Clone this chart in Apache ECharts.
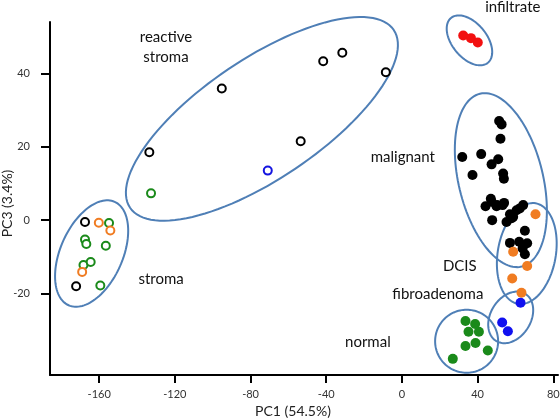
<!DOCTYPE html>
<html><head><meta charset="utf-8">
<script src="https://cdn.jsdelivr.net/npm/echarts@6/dist/echarts.min.js"></script>
<style>html,body{margin:0;padding:0;background:#fff}#c{width:560px;height:420px}</style>
</head><body><div id="c"></div>
<script>
// PCA scores [PC1, PC3]
const openBlack = [[-133.5,18.5],[-95.2,35.9],[-41.6,43.3],[-31.5,45.6],[-8.5,40.3],[-53.5,21.5],[-167.5,-0.5],[-172.2,-18.0]];
const openBlue = [[-70.9,13.5]];
const openGreen = [[-132.6,7.3],[-154.8,-0.8],[-167.5,-5.3],[-166.8,-6.5],[-156.5,-7.0],[-168.3,-12.2],[-164.5,-11.4],[-159.4,-17.8]];
const openOrange = [[-160.2,-0.7],[-154.1,-2.8],[-169.0,-14.1]];
const infiltrate = [[32.4,50.3],[36.5,49.6],[40.1,48.4]];
const malignant = [[51.4,27.0],[52.7,26.1],[52.1,22.2],[31.9,17.2],[41.9,18.0],[50.9,16.6],[47.4,15.2],[37.3,12.3],[53.5,12.7],[53.9,11.3],[47.0,5.8],[44.2,3.8],[47.4,5.0],[50.3,4.1],[47.7,0.0],[53.2,4.1],[57.1,1.6],[60.6,2.7],[64.1,4.1],[55.3,-0.5],[58.8,0.9],[65.0,-2.9],[57.1,-6.2],[62.0,-5.9],[66.2,-6.3],[63.8,-7.7],[65.0,-9.3],[50.0,3.8],[58.0,0.5],[54.0,4.7],[62.3,3.2]];
const dcis = [[70.6,1.6],[58.8,-8.6],[66.2,-12.5],[58.3,-15.9],[63.2,-19.8]];
const fibroadenoma = [[62.7,-22.5],[53.0,-27.9],[56.0,-30.3]];
const normal = [[33.6,-27.5],[38.7,-28.3],[35.2,-30.4],[40.7,-30.4],[33.6,-34.3],[38.9,-33.5],[45.4,-35.5],[26.9,-37.8]];

const xTicks = [-160,-120,-80,-40,0,40,80];
const yTicks = [-20,0,20,40];

// cluster outlines: centre in data units, semi-axes in px, tilt in degrees
const clusterCentres = [[-74.0,27.6],[-164.0,-9.1],[35.7,49.0],[52.3,10.9],[66.0,-9.1],[57.5,-26.5],[34.2,-33.0]];
const clusterAxes = [[159,60,34],[56.6,31.1,66],[29,17.3,129.4],[88.9,42.2,103.6],[51,29,80],[27.7,20.1,58],[31.5,31.5,0]];

const labelNames = ['reactive\nstroma','infiltrate','malignant','stroma','DCIS','fibroadenoma','normal'];
const labelPos = [[-124.7,47.1],[58.6,58.0],[0.5,17.1],[-127.3,-16.1],[30.6,-12.5],[19.0,-20.1],[-18.0,-33.2]];

const chart = echarts.init(document.getElementById('c'), null, {renderer:'canvas'});
const FONT = 'Lato';
function openS(data, color){
  return {type:'scatter', data, symbol:'circle', symbolSize:8, z:3,
    itemStyle:{color:'#fff', borderColor:color, borderWidth:2, opacity:1}};
}
function fillS(data, color){
  return {type:'scatter', data, symbol:'circle', symbolSize:10, z:3,
    itemStyle:{color:color, opacity:1}};
}
const ellData = clusterCentres.map((c,i)=>[c[0],c[1],clusterAxes[i][0],clusterAxes[i][1],clusterAxes[i][2]]);
const lblData = labelPos.map((p,i)=>[p[0],p[1],i]);

chart.setOption({
  animation:false,
  grid:{left:50,right:2,top:22,bottom:45,containLabel:false,outerBoundsMode:'none'},
  xAxis:{type:'value',min:-186,max:82.5,
    name:'PC1 (54.5%)',nameLocation:'middle',nameGap:29,nameMoveOverlap:false,
    nameTextStyle:{fontFamily:FONT,fontSize:14,color:'#222',padding:[0,22,0,0]},
    axisLine:{show:true,onZero:false,lineStyle:{color:'#000',width:2}},
    axisTick:{show:true,customValues:xTicks,length:8,lineStyle:{color:'#000',width:2}},
    axisLabel:{customValues:xTicks,margin:14,fontFamily:FONT,fontSize:11,color:'#333'},
    splitLine:{show:false}},
  yAxis:{type:'value',min:-42.2,max:54,
    name:'PC3 (3.4%)',nameLocation:'middle',nameGap:36,nameMoveOverlap:false,
    nameTextStyle:{fontFamily:FONT,fontSize:14,color:'#222',padding:[0,10,0,0]},
    axisLine:{show:true,onZero:false,lineStyle:{color:'#000',width:2}},
    axisTick:{show:true,customValues:yTicks,length:9,lineStyle:{color:'#000',width:2}},
    axisLabel:{customValues:yTicks,margin:20,fontFamily:FONT,fontSize:11,color:'#333'},
    splitLine:{show:false}},
  series:[
    {type:'custom', data:ellData, z:1, clip:false, silent:true,
      renderItem:function(params, api){
        const c = api.coord([api.value(0), api.value(1)]);
        const a = api.value(2), b = api.value(3), phi = api.value(4)*Math.PI/180;
        const pts = [];
        for(let k=0;k<=120;k++){
          const t = k/120*2*Math.PI;
          const ex = a*Math.cos(t), ey = b*Math.sin(t);
          pts.push([c[0] + ex*Math.cos(phi) - ey*Math.sin(phi), c[1] - (ex*Math.sin(phi) + ey*Math.cos(phi))]);
        }
        return {type:'polygon', shape:{points:pts}, style:{fill:'none', stroke:'#4f7fb6', lineWidth:2}};
      }},
    {type:'custom', data:lblData, z:2, clip:false, silent:true,
      renderItem:function(params, api){
        const c = api.coord([api.value(0), api.value(1)]);
        return {type:'text', x:c[0], y:c[1], style:{text:labelNames[api.value(2)], fill:'#111',
          font:'15px '+FONT, align:'center', verticalAlign:'middle', lineHeight:20}};
      }},
    openS(openBlack,'#000'),
    openS(openGreen,'#1a8a1a'),
    openS(openOrange,'#f07c22'),
    openS(openBlue,'#1515e0'),
    fillS(infiltrate,'#f21010'),
    fillS(malignant,'#000'),
    fillS(dcis,'#f07c22'),
    fillS(fibroadenoma,'#1010f0'),
    fillS(normal,'#1a8a1a')
  ]
});
</script></body></html>
